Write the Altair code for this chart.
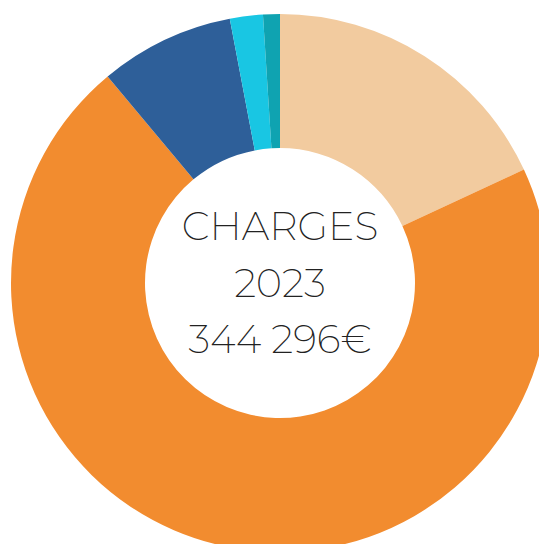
import altair as alt
import pandas as pd

categories = ["A", "B", "C", "D", "E"]
shares = [18.07, 70.86, 8.08, 1.98, 1.01]
colors = ["#F2CB9F", "#F28C2F", "#2E5F99", "#19C6E3", "#0FA3B1"]
center_lines = ["CHARGES", "2023", "344 296€"]

df = pd.DataFrame({"cat": categories, "share": shares, "idx": list(range(len(categories)))})
tdf = pd.DataFrame({"line": center_lines, "row": list(range(len(center_lines)))})

CX, CY = 272, 275

arcs = alt.Chart(df).mark_arc(outerRadius=269, innerRadius=135, stroke=None).encode(
    theta=alt.Theta("share:Q", stack=True),
    order=alt.Order("idx:O"),
    color=alt.Color("cat:N", scale=alt.Scale(domain=categories, range=colors), legend=None),
    x=alt.value(CX),
    y=alt.value(CY),
)

text = alt.Chart(tdf).mark_text(
    font="Montserrat, Open Sans", fontWeight=200, fontSize=39.5, color="#222222",
    align="center", baseline="alphabetic",
).encode(
    text="line:N",
    x=alt.value(CX),
    y=alt.Y("row:Q", axis=None, scale=alt.Scale(domain=[0, 2], range=[232, 345])),
)

chart = alt.layer(arcs, text).properties(
    width=531, height=536, autosize=alt.AutoSizeParams(type="none"), padding=0
).configure_view(stroke=None)

chart.save("out.html", embed_options={"renderer": "svg", "actions": False})
